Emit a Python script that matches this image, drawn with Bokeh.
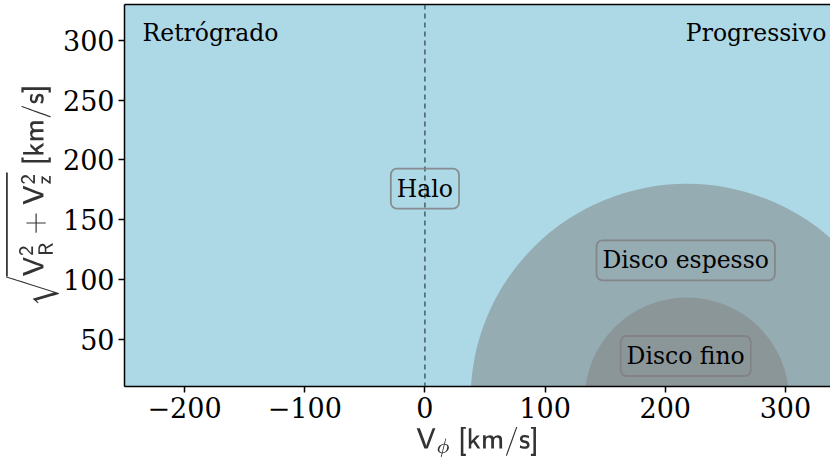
from bokeh.plotting import figure
from bokeh.models import Label, Span, LinearAxis, FixedTicker, Range1d
from bokeh.embed import file_html
from bokeh.resources import INLINE

# Data
x_ticks = [-200, -100, 0, 100, 200, 300]
y_ticks = [50, 100, 150, 200, 250, 300]
disk_names = ["Disco espesso", "Disco fino"]
disk_center_v = [218, 218]
disk_radius = [180, 85]
label_names = ["Halo", "Disco espesso", "Disco fino"]
label_x = [0, 217, 217]
label_y = [176, 116, 36]
side_names = ["Retrógrado", "Progressivo"]
side_x = [-235, 334]
side_y = [306, 306]

p = figure(width=830, height=468, output_backend="svg", toolbar_location=None,
           x_range=Range1d(-250, 337.5), y_range=Range1d(10.5, 330),
           min_border_left=124, min_border_right=0, min_border_top=4, min_border_bottom=82)
p.background_fill_color = "#add8e6"
p.border_fill_color = "white"
p.outline_line_color = None
p.xgrid.visible = False
p.ygrid.visible = False

# disks
for cx, r in zip(disk_center_v, disk_radius):
    p.ellipse(x=cx, y=0, width=2 * r, height=2 * r, fill_color="gray", fill_alpha=0.5, line_color=None)

# dashed line at 0
p.add_layout(Span(location=0, dimension="height", line_color="#2a3f45", line_width=1.2, line_dash="5 4"))

font = "DejaVu Serif"
for txt, lx, ly in zip(label_names, label_x, label_y):
    p.add_layout(Label(x=lx, y=ly, text=txt, text_align="center", text_baseline="middle",
                       text_font=font, text_font_size="23.5px", text_color="black",
                       border_line_color="gray", border_line_alpha=0.85, border_line_width=1.8,
                       background_fill_color=None, padding=6, border_radius=6))

for txt, sx, sy, al in zip(side_names, side_x, side_y, ["left", "right"]):
    p.add_layout(Label(x=sx, y=sy, text=txt, text_align=al, text_baseline="middle",
                       text_font=font, text_font_size="23.5px", text_color="black"))

for ax in (p.xaxis[0], p.yaxis[0]):
    ax.major_label_text_font = font
    ax.major_label_text_font_size = "27px"
    ax.major_label_text_color = "black"
    ax.major_tick_out = 6
    ax.major_tick_in = 0
    ax.major_tick_line_width = 1.5
    ax.minor_tick_line_color = None
    ax.axis_line_width = 1.5
    ax.axis_label_text_font_size = "24px"
    ax.axis_label_text_font_style = "normal"
    ax.axis_label_text_color = "#333333"

p.xaxis[0].ticker = FixedTicker(ticks=x_ticks)
p.yaxis[0].ticker = FixedTicker(ticks=y_ticks)
p.xaxis[0].major_label_overrides = {t: ("\u2212" + str(abs(t)) if t < 0 else str(t)) for t in x_ticks}
p.xaxis[0].major_label_standoff = 4
p.yaxis[0].major_label_standoff = 4
p.xaxis[0].axis_label = r"$$\mathsf{V_{\mathrm{\phi}}\ [km/s]}$$"
p.yaxis[0].axis_label = r"$$\sqrt{\mathsf{V_R^2+V_z^2}}\ \mathsf{[km/s]}$$"
p.xaxis[0].axis_label_standoff = 6
p.yaxis[0].axis_label_standoff = 1

top = LinearAxis(ticker=FixedTicker(ticks=[]), axis_line_width=1.5,
                 major_tick_line_color=None, minor_tick_line_color=None,
                 major_label_text_font_size="0px")
p.add_layout(top, "above")

open("out.html", "w").write(file_html(p, INLINE))
